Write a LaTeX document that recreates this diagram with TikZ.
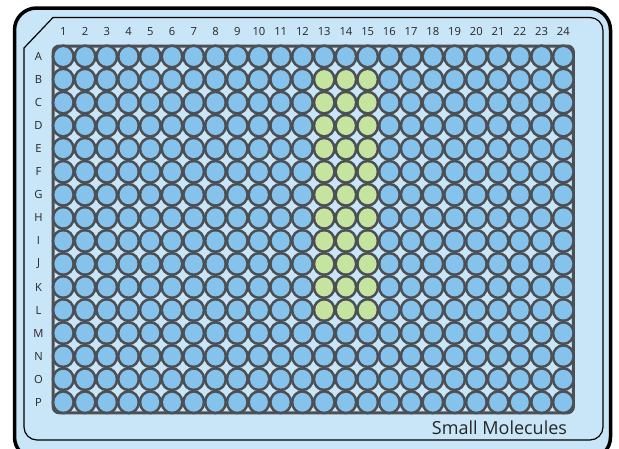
\documentclass[tikz,border=0pt]{standalone}
\usepackage{fontspec}
\setmainfont{Open Sans}
\usepackage{xcolor}
\usetikzlibrary{calc}

\definecolor{platefill}{RGB}{201,229,248}
\definecolor{wellblue}{RGB}{133,194,236}
\definecolor{wellgreen}{RGB}{197,228,160}
\definecolor{wellrim}{RGB}{76,80,84}

\tikzset{
	collabel/.style={font=\fontsize{11.2}{13}\selectfont, text=black!85, inner sep=0pt, anchor=base},
	rowlabel/.style={font=\fontsize{11.2}{13}\selectfont, text=black!85, inner sep=0pt},
}

\begin{document}
\begin{tikzpicture}[x=1pt,y=-1pt]
		
		\useasboundingbox (0,0) rectangle (619,448);
		\clip (0,0) rectangle (619,448);
		
		% Plate body (bottom edge runs off the picture)
		\draw[line width=3.5pt, fill=platefill, rounded corners=22pt] (14.5,8) rectangle (610.5,459);
		
		% Inner rim with the cut corner (A1 side)
		\draw[line width=1.2pt] (24,48) -- (53,17.5) [rounded corners=13pt] -- (603,17.5) -- (603,440) -- (24,440) [sharp corners] -- cycle;
		
		% Well block
		\draw[wellrim, line width=3pt, fill=platefill, rounded corners=6pt] (53.2,46) rectangle (573.4,412.8);
		
		% Rims of the wells
		\foreach \c in {1,...,24}
		\foreach \r in {1,...,16}
		\fill[wellrim] ({63.3+(\c-1)*21.74},{56.5+(\r-1)*23.05}) ellipse [x radius=11.6, y radius=12.1];
		
		% Wells: columns 13--15, rows B--L hold the small molecules
		\foreach \c in {1,...,24}
		\foreach \r in {1,...,16}{
			\pgfmathsetmacro{\isgreen}{and(and(\c>12,\c<16),and(\r>1,\r<13))}
			\ifdim\isgreen pt>0.5pt
				\fill[wellgreen] ({63.3+(\c-1)*21.74},{56.5+(\r-1)*23.05}) ellipse [x radius=8.9, y radius=9.4];
			\else
				\fill[wellblue] ({63.3+(\c-1)*21.74},{56.5+(\r-1)*23.05}) ellipse [x radius=8.9, y radius=9.4];
			\fi
		}
		
		% Column numbers
		\foreach \c in {1,...,24}
		\node[collabel] (col-\c) at ({63.3+(\c-1)*21.74},35.9) {\c};
		
		% Row letters
		\foreach \l [count=\r] in {A,B,C,D,E,F,G,H,I,J,K,L,M,N,O,P}
		\node[rowlabel] (row-\l) at (38.5,{56.5+(\r-1)*23.05}) {\l};
		
		% Plate name
		\node[anchor=base, inner sep=0pt, text=black!85, font=\fontsize{18}{21}\selectfont] (plate-name) at (499.5,434) {Small Molecules};
		
	\end{tikzpicture}
\end{document}
